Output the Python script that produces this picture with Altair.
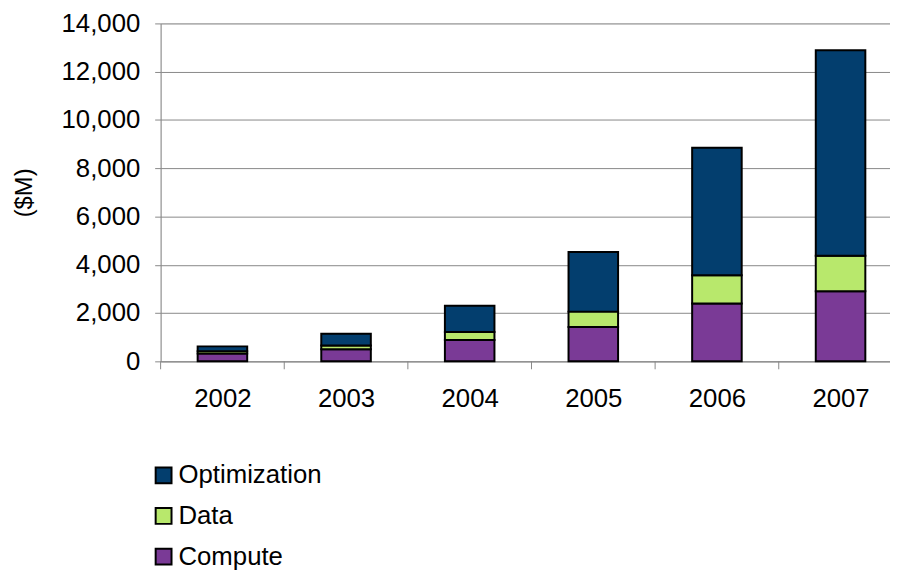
import altair as alt
import pandas as pd

years = ["2002", "2003", "2004", "2005", "2006", "2007"]
compute = [320, 500, 880, 1420, 2400, 2900]
data_vals = [100, 160, 340, 640, 1170, 1470]
optimization = [200, 480, 1080, 2470, 5280, 8520]

series = ["Optimization", "Data", "Compute"]
colors = ["#033e6e", "#b8e86c", "#7a3a96"]
stack_rank = {"Compute": 0, "Data": 1, "Optimization": 2}

rows = []
for i, y in enumerate(years):
    for name, vals in (("Compute", compute), ("Data", data_vals), ("Optimization", optimization)):
        rows.append({"Year": y, "pos": i + 0.5, "Series": name, "Value": vals[i],
                     "rank": stack_rank[name]})
df = pd.DataFrame(rows)
edges = pd.DataFrame({"edge": list(range(len(years)))})

FONT = "Liberation Sans"
FS = 26
GRAY = "#888888"

label_expr = "[" + ",".join("'%s'" % y for y in years) + "][floor(datum.value)]"
xscale = alt.Scale(domain=[0, 5.90], nice=False, zero=False, padding=0)

bars = alt.Chart(df).mark_bar(width=50, stroke="black", strokeWidth=2).encode(
    x=alt.X("pos:Q", scale=xscale,
            axis=alt.Axis(title=None, values=[i + 0.5 for i in range(len(years))],
                          labelExpr=label_expr, ticks=False, labelPadding=25,
                          labelFontSize=FS, labelFont=FONT, labelColor="black",
                          domainColor=GRAY, grid=False, labelFlush=False)),
    y=alt.Y("Value:Q", stack="zero",
            scale=alt.Scale(domain=[0, 14000], nice=False),
            axis=alt.Axis(title="($M)", values=list(range(0, 14001, 2000)), format=",d",
                          tickSize=6, labelPadding=15, labelFontSize=FS, labelFont=FONT,
                          labelColor="black", titleFontSize=24, titleFont=FONT,
                          titleFontWeight="normal", titleColor="black", titlePadding=25,
                          domainColor=GRAY, tickColor=GRAY,
                          gridColor=GRAY, gridWidth=1)),
    color=alt.Color("Series:N",
                    scale=alt.Scale(domain=series, range=colors),
                    legend=alt.Legend(title=None, orient="none", legendX=-10, legendY=443,
                                      direction="vertical", symbolType="square",
                                      symbolSize=256, symbolStrokeColor="black",
                                      symbolStrokeWidth=2, labelFontSize=FS, labelFont=FONT,
                                      labelColor="black", rowPadding=15, labelOffset=2,
                                      padding=0)),
    order=alt.Order("rank:Q", sort="ascending"),
)

ticks = alt.Chart(edges).mark_rule(color=GRAY, strokeWidth=1).encode(
    x=alt.X("edge:Q", scale=xscale),
    y=alt.value(341),
    y2=alt.value(349),
)

chart = alt.layer(bars, ticks).properties(
    width=736,
    height=341,
    autosize=alt.AutoSizeParams(type="none"),
    padding={"left": 154, "top": 13, "right": 0, "bottom": 209},
).configure_view(stroke=None).configure(background="white")

chart.save("out.html", embed_options={"renderer": "svg", "actions": False})
